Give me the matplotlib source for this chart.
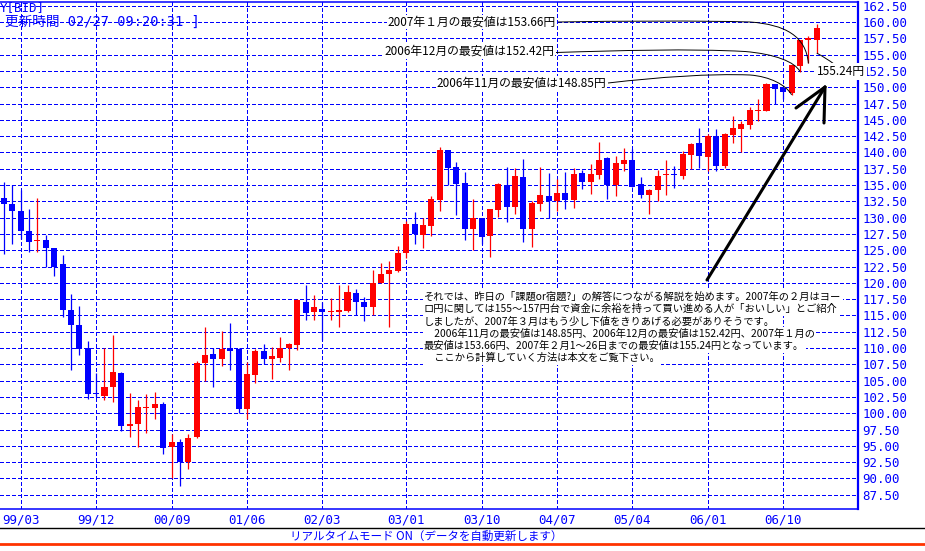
import matplotlib
matplotlib.use("Agg")
import matplotlib.pyplot as plt
from matplotlib.lines import Line2D
from matplotlib.path import Path
from matplotlib.patches import PathPatch
import numpy as np

plt.rcParams['font.family'] = ['Noto Sans CJK JP', 'DejaVu Sans']
plt.rcParams['lines.scale_dashes'] = False

# monthly EUR/JPY candles, first one is 1999/01
first_year, first_month = 1999, 1
opens = [133.0, 132.1, 131.1, 128.0, 126.4, 126.6, 125.3, 122.9, 115.9, 113.6,
         110.0, 103.1, 102.7, 104.1, 106.2, 98.0, 98.3, 100.75, 100.75, 101.4,
         94.8, 95.6, 92.5, 96.3, 107.65, 109.1, 108.26, 110.05, 109.9, 100.7,
         105.9, 109.6, 108.26, 108.5, 110.05, 110.5, 117.1, 115.5, 116.05, 115.5,
         115.6, 115.75, 118.5, 117.0, 116.26, 120.0, 121.3, 121.8, 124.56, 129.1,
         127.4, 128.7, 132.7, 140.36, 137.75, 135.3, 128.2, 129.9, 127.24, 131.2,
         135.0, 131.7, 136.2, 128.2, 132.14, 133.3, 132.5, 133.83, 132.7, 136.9,
         135.46, 136.6, 139.1, 135.0, 138.3, 138.8, 135.24, 133.45, 134.2, 136.5,
         136.6, 136.4, 139.6, 141.4, 139.3, 142.5, 137.9, 142.7, 143.6, 144.2,
         146.3, 146.4, 150.5, 149.9, 149.1, 153.3, 157.2, 157.3]
highs = [135.5, 135.0, 134.3, 131.4, 133.0, 127.4, 125.3, 124.3, 118.3, 116.5,
         111.1, 106.2, 110.0, 112.0, 106.4, 103.1, 102.1, 103.0, 103.3, 101.7,
         96.8, 96.1, 96.8, 108.0, 113.3, 110.05, 112.67, 113.8, 110.0, 107.8,
         109.9, 110.7, 110.15, 111.75, 110.8, 117.5, 119.7, 118.1, 117.1, 117.7,
         119.6, 119.7, 119.1, 117.9, 122.05, 123.1, 123.3, 125.7, 129.5, 130.8,
         129.9, 133.4, 140.87, 140.36, 138.5, 137.0, 132.85, 129.9, 131.4, 135.25,
         137.75, 137.6, 139.0, 132.6, 137.75, 136.9, 135.9, 137.0, 137.55, 137.35,
         138.2, 141.6, 139.3, 139.4, 140.7, 140.5, 136.3, 134.4, 137.3, 138.9,
         137.9, 140.2, 141.4, 143.7, 142.9, 143.55, 143.0, 145.55, 144.8, 146.9,
         148.2, 150.7, 150.5, 149.9, 153.45, 157.3, 157.9, 159.7]
lows = [124.4, 126.0, 126.7, 124.7, 124.7, 122.4, 121.0, 114.7, 106.7, 108.9,
        102.2, 102.5, 102.0, 101.8, 97.3, 96.3, 94.8, 96.9, 99.2, 93.8,
        90.0, 88.8, 91.4, 96.15, 105.0, 104.0, 107.3, 106.6, 100.0, 99.1,
        104.6, 107.5, 105.3, 107.8, 106.7, 109.7, 114.3, 114.36, 111.2, 114.36,
        113.3, 115.5, 115.0, 114.1, 115.0, 120.0, 113.3, 121.6, 123.85, 125.9,
        125.4, 127.24, 131.07, 134.95, 130.4, 126.6, 125.0, 125.9, 124.0, 130.15,
        129.4, 130.6, 126.3, 125.56, 131.07, 129.9, 131.0, 131.3, 131.5, 134.4,
        133.6, 136.0, 132.9, 133.3, 137.1, 134.7, 133.0, 130.5, 132.5, 133.5,
        134.6, 136.0, 137.5, 137.55, 137.1, 137.2, 137.65, 141.45, 140.1, 143.55,
        144.9, 146.3, 147.5, 148.2, 148.85, 152.42, 153.66, 155.24]
closes = [132.1, 131.1, 127.9, 126.2, 126.6, 125.3, 122.4, 115.8, 113.6, 109.8,
          103.0, 102.9, 104.1, 106.4, 98.1, 98.4, 101.0, 101.0, 101.4, 94.6,
          95.6, 92.5, 96.25, 107.75, 109.0, 108.3, 109.9, 109.6, 100.7, 106.05,
          109.6, 108.3, 108.8, 110.05, 110.67, 117.3, 115.4, 116.26, 115.6, 115.75,
          115.9, 118.67, 117.0, 116.26, 120.0, 121.4, 121.9, 124.6, 129.1, 127.5,
          128.9, 132.9, 140.36, 137.65, 135.2, 128.2, 129.9, 127.1, 131.3, 135.15,
          131.7, 136.4, 128.3, 132.25, 133.5, 132.5, 133.83, 132.7, 136.7, 135.46,
          136.7, 138.8, 134.95, 138.4, 138.8, 134.74, 133.45, 134.3, 136.4, 136.6,
          136.5, 139.7, 141.25, 139.5, 142.5, 137.9, 142.8, 143.8, 144.3, 146.5,
          146.5, 150.5, 149.7, 149.35, 153.4, 157.24, 157.5, 159.1]

x_labels = ["99/03", "99/12", "00/09", "01/06", "02/03", "03/01",
            "03/10", "04/07", "05/04", "06/01", "06/10"]
y_ticks = np.arange(87.5, 162.51, 2.5)

note_lines = [
    "それでは、昨日の「課題or宿題?」の解答につながる解説を始めます。2007年の２月はヨー",
    "ロ円に関しては155～157円台で資金に余裕を持って買い進める人が「おいしい」とご紹介",
    "しましたが、2007年３月はもう少し下値をきりあげる必要がありそうです。",
    "　2006年11月の最安値は148.85円、2006年12月の最安値は152.42円、2007年１月の",
    "最安値は153.66円、2007年２月1～26日までの最安値は155.24円となっています。",
    "　ここから計算していく方法は本文をご覧下さい。",
]
low_notes = ["2006年11月の最安値は148.85円", "2006年12月の最安値は152.42円",
             "2007年１月の最安値は153.66円"]

BLUE = '#0000ff'
RED = '#ff0000'
W, H = 925, 551

def month_index(label):
    yy, mm = int(label[:2]), int(label[3:])
    year = 1900 + yy if yy > 50 else 2000 + yy
    return (year - first_year) * 12 + mm - first_month

o = np.array(opens); h = np.array(highs); l = np.array(lows); c = np.array(closes)
x = np.arange(len(o))
up = c >= o
colors = np.where(up, RED, BLUE)

fig = plt.figure(figsize=(W / 100, H / 100), dpi=100)
fig.patch.set_facecolor('white')
ax = fig.add_axes([0, 1 - 509 / H, 858 / W, 507 / H])
ax.set_xlim(-0.47, 101.92)
ax.set_ylim(85.32, 163.08)

# candles
ax.vlines(x, l, h, colors=colors, lw=0.9, zorder=2)
body = np.maximum(np.abs(c - o), 0.25)
ax.bar(x, body, bottom=np.minimum(o, c), width=0.72, color=colors, lw=0, zorder=3)

# axes, grid, ticks
ax.set_xticks([month_index(s) for s in x_labels])
ax.set_xticklabels(x_labels)
ax.set_yticks(y_ticks)
ax.set_yticklabels(["%.2f" % v for v in y_ticks])
ax.yaxis.tick_right()
ax.tick_params(axis='both', length=0, labelcolor=BLUE, labelsize=9)
ax.tick_params(axis='y', pad=3)
ax.tick_params(axis='x', pad=3)
for lab in ax.get_xticklabels() + ax.get_yticklabels():
    lab.set_fontfamily('DejaVu Sans Mono')
ax.grid(True, color=BLUE, lw=0.72, linestyle=(0, (2.2, 1.5)), antialiased=False)
ax.set_axisbelow(True)
ax.spines['left'].set_visible(False)
ax.spines['right'].set_color(BLUE)
ax.spines['right'].set_linewidth(1.6)
ax.spines['top'].set_color(BLUE)
ax.spines['top'].set_linewidth(1.1)
ax.spines['bottom'].set_color(BLUE)
ax.spines['bottom'].set_linewidth(1.1)

def fx(px):
    return px / W

def fy(py):
    return 1 - py / H

def to_data(px, py):
    return tuple(ax.transData.inverted().transform((px, H - py)))

# header text (the visible part at the left edge)
mono = ['DejaVu Sans Mono', 'Noto Sans CJK JP']
fig.text(fx(0), fy(7.5), "Y[BID]", color=BLUE, fontsize=9,
         family=mono, ha='left', va='center')
fig.text(fx(5), fy(22), "更新時間 02/27 09:20:31 ]", color=BLUE, fontsize=9.8,
         family=mono, ha='left', va='center')

# notes pointing at the lows of the last months
note_pos = [(606, 83), (554, 51.5), (556, 22)]
for txt, (px, py) in zip(low_notes, note_pos):
    ax.text(*to_data(px, py), txt, fontsize=8.5, color='black', ha='right',
            va='center', bbox=dict(facecolor='white', edgecolor='none', pad=0.5))

curves = [
    [(608, 83), (660, 77), (710, 73.5), (750, 75), (770, 76.5), (786, 85)],
    [(556, 52.5), (620, 50.5), (690, 48.5), (745, 51.5), (775, 54), (795, 62)],
    [(558, 22), (620, 21), (700, 20.5), (750, 22), (785, 24.5), (806, 36)],
]
for pts, k in zip(curves, [94, 95, 96]):
    verts = [to_data(*p) for p in pts] + [(x[k], l[k])]
    codes = [Path.MOVETO] + [Path.CURVE4] * 6
    ax.add_patch(PathPatch(Path(verts, codes), fc='none', ec='black', lw=0.7, zorder=4))

verts = [(x[97], l[97]), to_data(826, 58), to_data(834, 64)]
ax.add_patch(PathPatch(Path(verts, [Path.MOVETO, Path.CURVE3, Path.CURVE3]),
                       fc='none', ec='black', lw=0.7, zorder=4))
ax.text(*to_data(817, 71.5), "155.24円", fontsize=8.5, color='black', ha='left',
        va='center', clip_on=False, zorder=6,
        bbox=dict(facecolor='white', edgecolor='none', pad=1.2))

# hand drawn arrow
arrow = [[(707, 280), (825, 87)], [(796, 108), (825, 87)], [(825, 87), (824, 123)]]
for (x0, y0), (x1, y1) in arrow:
    fig.add_artist(Line2D([fx(x0), fx(x1)], [fy(y0), fy(y1)], color='black',
                          lw=2.2, solid_capstyle='round', zorder=5))

# comment paragraph
line_y = [297, 309.3, 321.5, 333.7, 346, 358.2]
for txt, py in zip(note_lines, line_y):
    ax.text(*to_data(424, py), txt, fontsize=7.4, color='black', ha='left',
            va='center', zorder=5,
            bbox=dict(facecolor='white', edgecolor='none', pad=1.0))

# footer
fig.add_artist(Line2D([0, 1], [fy(528), fy(528)], color='black', lw=1.0))
fig.add_artist(Line2D([0, 1], [fy(544), fy(544)], color='#ff3300', lw=2.0))
fig.text(fx(426), fy(536), "リアルタイムモード ON（データを自動更新します）",
         color=BLUE, fontsize=8.3, ha='center', va='center')

fig.savefig("out.png", dpi=100)
